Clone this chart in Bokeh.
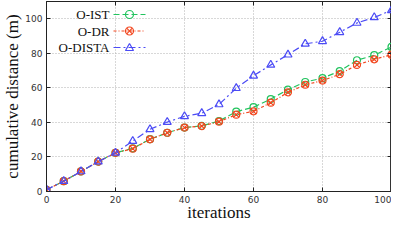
from bokeh.plotting import figure
from bokeh.models import (Range1d, Label, LinearAxis, FixedTicker, Arrow, BoxAnnotation,
                          PolyAnnotation)
from bokeh.embed import file_html
from bokeh.resources import INLINE

iterations = [0, 5, 10, 15, 20, 25, 30, 35, 40, 45, 50, 55, 60, 65, 70, 75, 80, 85, 90, 95, 100]
o_ist = [1, 6, 11.6, 17.3, 22.4, 25.0, 30.3, 34.0, 37.0, 38.0, 40.8, 46.2, 48.8, 53.5, 59.0, 63.4, 65.6, 69.7, 76.0, 78.9, 83.7]
o_dr = [1, 6, 11.6, 17.3, 22.4, 24.8, 30.2, 34.0, 37.0, 37.9, 40.4, 44.5, 46.4, 51.4, 57.4, 61.8, 64.2, 67.9, 73.3, 76.5, 79.2]
o_dista = [1, 6, 11.6, 17.3, 22.4, 29.2, 36.0, 40.2, 43.5, 45.3, 50.4, 59.8, 67.0, 73.3, 79.2, 85.5, 87.0, 92.2, 97.6, 100.8, 104.9]
series_names = ["O-IST", "O-DR", "O-DISTA"]
ticks = [0, 20, 40, 60, 80, 100]

colors = ["#22c35e", "#f2461e", "#4b4bf5"]
dashes = ["6 3", "3 2 1 2", "7 3 2 3"]
markers = ["circle", "circle_x", "triangle"]
msizes = [7, 7, 8]
SERIF = "Liberation Serif"

p = figure(width=391, height=224, output_backend="svg", toolbar_location=None,
           x_range=Range1d(0, 100), y_range=Range1d(0, 110),
           min_border_left=44, min_border_right=0, min_border_top=1, min_border_bottom=0)
p.outline_line_color = "#333333"
p.background_fill_color = "white"

for ax, lab in ((p.xaxis[0], "iterations"), (p.yaxis[0], "cumulative distance (m)")):
    ax.ticker = FixedTicker(ticks=ticks)
    ax.axis_label = lab
    ax.axis_label_text_font = SERIF
    ax.axis_label_text_font_style = "normal"
    ax.axis_label_text_font_size = "17px"
    ax.axis_label_text_color = "#111111"
    ax.major_label_text_font = "DejaVu Sans"
    ax.major_label_text_font_size = "9px"
    ax.major_label_text_color = "#333333"
    ax.major_tick_in = 4
    ax.major_tick_out = 0
    ax.minor_tick_in = 0
    ax.minor_tick_out = 0
    ax.axis_line_color = "#222222"
    ax.major_tick_line_color = "#222222"
p.xaxis.major_label_standoff = 4
p.xaxis.axis_label_standoff = -3
p.yaxis.major_label_standoff = 4
p.yaxis.axis_label_standoff = 0

for loc in ("above", "right"):
    a = LinearAxis(ticker=FixedTicker(ticks=ticks), major_label_text_font_size="0px",
                   major_label_standoff=0, major_tick_in=4, major_tick_out=0,
                   minor_tick_in=0, minor_tick_out=0, axis_line_color="#222222",
                   major_tick_line_color="#222222")
    a.major_label_overrides = {t: "" for t in ticks}
    p.add_layout(a, loc)

p.xgrid.ticker = FixedTicker(ticks=ticks)
p.ygrid.ticker = FixedTicker(ticks=ticks)
p.grid.grid_line_color = "#b0b0b0"
p.grid.grid_line_dash = "1 2"
p.grid.grid_line_width = 1

for ys, c, d, m, s in zip([o_ist, o_dr, o_dista], colors, dashes, markers, msizes):
    p.line(iterations, ys, line_color=c, line_dash=d, line_width=1.2)
    p.scatter(iterations, ys, marker=m, size=s, line_color=c, fill_color=None, line_width=1.2)

# hand-made legend (screen units, relative to frame bottom-left)
FH = 191
row_y = [FH - 14, FH - 30.5, FH - 47]
LX0, LX1, MX = 67, 99, 83
for i, name in enumerate(series_names):
    y = row_y[i]
    c = colors[i]
    r = (msizes[i] + 1) // 2
    p.add_layout(Label(x=63, y=y, x_units="screen", y_units="screen", text=name,
                       text_align="right", text_baseline="middle", text_font=SERIF,
                       text_font_size="13px", text_color="#111111"))
    p.add_layout(Arrow(x_start=LX0, y_start=y, x_end=LX1, y_end=y, start_units="screen",
                       end_units="screen", start=None, end=None, line_color=c,
                       line_dash=dashes[i], line_width=1.2))
    if markers[i] in ("circle", "circle_x"):
        p.add_layout(BoxAnnotation(left=MX - r, right=MX + r, bottom=y - r, top=y + r,
                                   left_units="screen", right_units="screen",
                                   bottom_units="screen", top_units="screen",
                                   border_radius=int(r), fill_alpha=0, line_color=c,
                                   line_width=1.2, line_alpha=1))
        if markers[i] == "circle_x":
            q = r * 0.7
            for (a0, b0, a1, b1) in ((MX - q, y - q, MX + q, y + q), (MX - q, y + q, MX + q, y - q)):
                p.add_layout(Arrow(x_start=a0, y_start=b0, x_end=a1, y_end=b1,
                                   start_units="screen", end_units="screen", start=None,
                                   end=None, line_color=c, line_width=1.2))
    else:
        p.add_layout(PolyAnnotation(xs=[MX - r, MX + r, MX], ys=[y - r * 0.75, y - r * 0.75, y + r],
                                    xs_units="screen", ys_units="screen", fill_alpha=0,
                                    line_color=c, line_width=1.2, line_alpha=1))

open("out.html", "w").write(file_html(p, INLINE))
